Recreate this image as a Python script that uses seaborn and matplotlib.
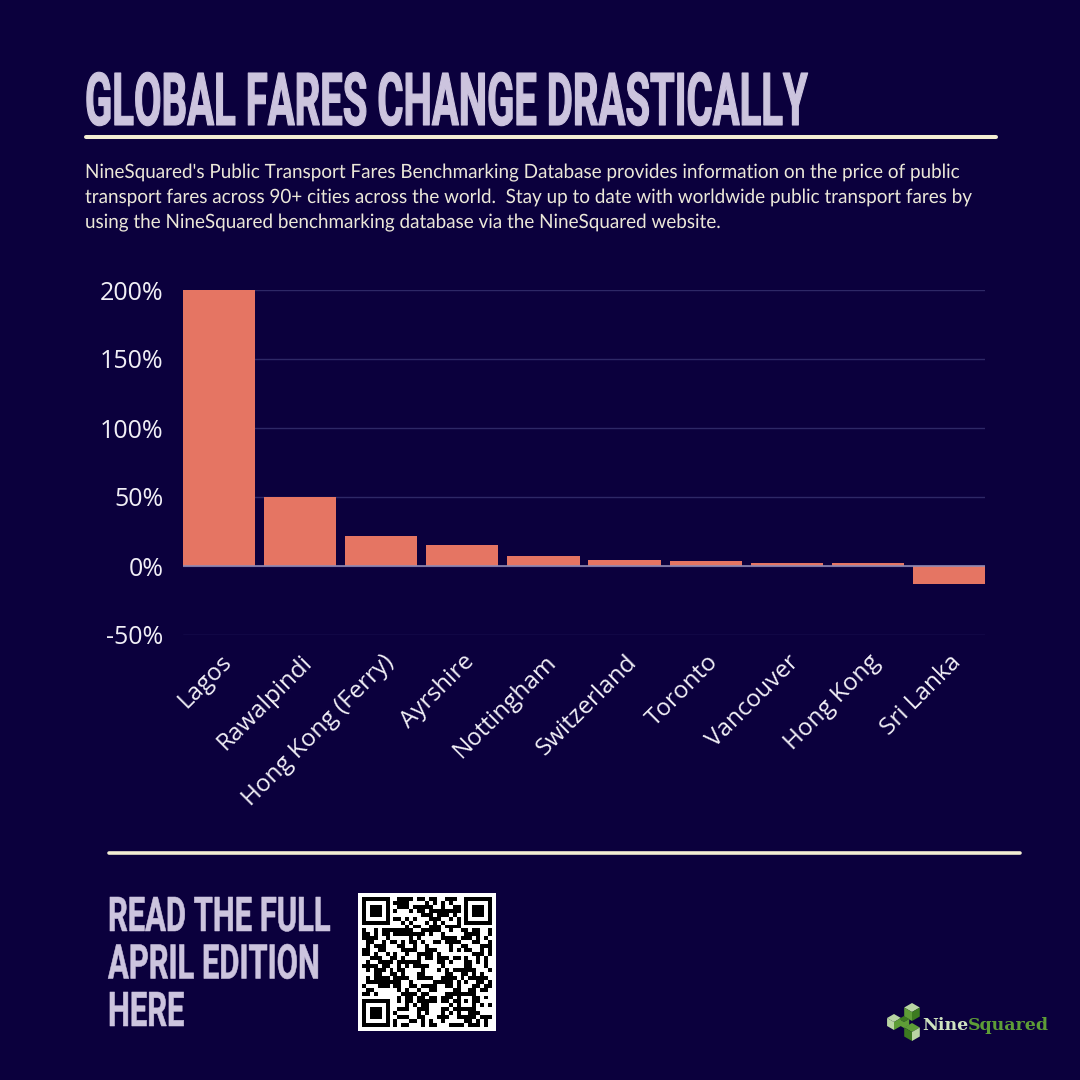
import hashlib
import numpy as np
import pandas as pd
import matplotlib
matplotlib.use("Agg")
import matplotlib.pyplot as plt
import seaborn as sns
from matplotlib.patheffects import AbstractPathEffect
from matplotlib.transforms import Affine2D, ScaledTranslation
from matplotlib.ticker import FuncFormatter

# Data (% change in fares)
cities = ["Lagos", "Rawalpindi", "Hong Kong (Ferry)", "Ayrshire", "Nottingham",
          "Switzerland", "Toronto", "Vancouver", "Hong Kong", "Sri Lanka"]
changes = [200, 50, 22, 15, 7.2, 4.3, 3.4, 2.4, 2.4, -13]
y_ticks = [-50, 0, 50, 100, 150, 200]

title = "GLOBAL FARES CHANGE DRASTICALLY"
intro_lines = [
    "NineSquared's Public Transport Fares Benchmarking Database provides information on the price of public",
    "transport fares across 90+ cities across the world.  Stay up to date with worldwide public transport fares by",
    "using the NineSquared benchmarking database via the NineSquared website.",
]
cta_lines = ["READ THE FULL", "APRIL EDITION", "HERE"]

# Colours
BG = "#0b003d"
BAR = "#e57563"
GRID = "#2e2866"
ZERO = "#9089b3"
TITLE = "#ccc4de"
CREAM = "#f4eed3"
TEXT = "#ece8d9"
TICK = "#f1eff6"
H = 1080


class Stretch(AbstractPathEffect):
    """Stretch a text vertically around its baseline y0 (display px), optional outline."""
    def __init__(self, sy, y0, lw=0.0):
        super().__init__((0, 0))
        self.sy, self.y0, self.lw = sy, y0, lw

    def draw_path(self, renderer, gc, tpath, affine, rgbFace=None):
        t = affine + Affine2D().translate(0, -self.y0).scale(1, self.sy).translate(0, self.y0)
        gc0 = renderer.new_gc()
        gc0.copy_properties(gc)
        if self.lw > 0 and rgbFace is not None:
            gc0.set_linewidth(self.lw)
            gc0.set_foreground(rgbFace)
        renderer.draw_path(gc0, tpath, t, rgbFace)
        gc0.restore()


sns.set_style("dark", {"axes.facecolor": BG, "figure.facecolor": BG})
plt.rcParams["font.family"] = ["Open Sans", "DejaVu Sans"]

fig = plt.figure(figsize=(10.8, 10.8), dpi=100, facecolor=BG)

# full-figure overlay in pixel coords for the poster decorations
deco = fig.add_axes([0, 0, 1, 1], zorder=-1)
deco.set_xlim(0, H)
deco.set_ylim(H, 0)
deco.axis("off")
deco.patch.set_alpha(0)

renderer = fig.canvas.get_renderer()


def fitted(x, y, s, target_w, cap_px, lw=0.0, size=None, **kw):
    """Text sized to a target width, then stretched to a target cap height."""
    size0 = cap_px / 0.711 * 0.72
    t = deco.text(x, y, s, ha="left", va="baseline", fontsize=size0, **kw)
    if size is None:
        w = t.get_window_extent(renderer).width
        size = size0 * target_w / w
    t.set_fontsize(size)
    t.set_path_effects([Stretch(size0 / size, H - y, lw)])
    return t, size


# Title + rules
fitted(85, 125, title, 723, 52, lw=0.8, fontweight="bold", family="Roboto", color=TITLE)
deco.plot([86, 996], [137, 137], color=CREAM, lw=2.9, solid_capstyle="round")
deco.plot([109, 1020], [852.5, 852.5], color=CREAM, lw=2.6, solid_capstyle="round")

# intro paragraph
_, psize = fitted(85, 178, intro_lines[0], 873, 14,
                  family=["Lato", "DejaVu Sans"], color=TEXT)
for i, line in enumerate(intro_lines[1:], start=1):
    fitted(85, 178 + 25 * i, line, 0, 14, size=psize,
           family=["Lato", "DejaVu Sans"], color=TEXT)

# Call to action
_, csize = fitted(108, 931, cta_lines[0], 222, 34, lw=0.4, fontweight="bold",
                  family="Roboto", color=TITLE)
for i, line in enumerate(cta_lines[1:], start=1):
    fitted(108, 931 + 47.5 * i, line, 0, 34, lw=0.4, size=csize, fontweight="bold",
           family="Roboto", color=TITLE)

# QR-style block (deterministic pattern from a hash)
n = 33
raw = b"".join(hashlib.sha256(f"ninesquared-april-{k}".encode()).digest() for k in range(5))
qr = np.unpackbits(np.frombuffer(raw, dtype=np.uint8))[: n * n].reshape(n, n).astype(float)
for r0, c0 in [(0, 0), (0, n - 7), (n - 7, 0)]:
    qr[max(r0 - 1, 0):r0 + 8, max(c0 - 1, 0):c0 + 8] = 0
    qr[r0:r0 + 7, c0:c0 + 7] = 1
    qr[r0 + 1:r0 + 6, c0 + 1:c0 + 6] = 0
    qr[r0 + 2:r0 + 5, c0 + 2:c0 + 5] = 1
qr[n - 9:n - 4, n - 9:n - 4] = 1
qr[n - 8:n - 5, n - 8:n - 5] = 0
qr[n - 7, n - 7] = 1
qr = np.pad(qr, 1)
qax = fig.add_axes([358 / H, 1 - 1031 / H, 138 / H, 138 / H])
qax.imshow(qr, cmap="gray_r", interpolation="nearest", vmin=0, vmax=1)
qax.axis("off")

# NineSquared logo
LIGHT, MID, DARK = "#b9d5a3", "#5e9d37", "#3c7a20"


def cube(cx, cy, r, top, left, right):
    h = 0.866 * r
    deco.fill([cx, cx + h, cx, cx - h], [cy - r, cy - r / 2, cy, cy - r / 2], color=top, lw=0)
    deco.fill([cx - h, cx, cx, cx - h], [cy - r / 2, cy, cy + r, cy + r / 2], color=left, lw=0)
    deco.fill([cx, cx + h, cx + h, cx], [cy, cy - r / 2, cy + r / 2, cy + r], color=right, lw=0)


cube(912, 1012, 9, LIGHT, MID, DARK)
cube(894, 1022, 8, LIGHT, LIGHT, MID)
cube(912, 1032, 9, MID, DARK, LIGHT)
cube(904, 1022, 6, DARK, MID, MID)
nine = deco.text(922, 1030, "Nine", ha="left", va="baseline", fontsize=12.5,
                 fontweight="bold", family="DejaVu Serif", color="#cfe3c0")
deco.annotate("Squared", xy=(1, 0), xycoords=nine, ha="left", va="bottom",
              fontsize=12.5, fontweight="bold", family="DejaVu Serif", color="#5e9d37")

# Bar chart
df = pd.DataFrame({"city": cities, "change": changes})
ax = fig.add_axes([183 / H, 1 - 635 / H, 802 / H, 345 / H])
sns.barplot(data=df, x="city", y="change", color=BAR, saturation=1, width=0.89,
            linewidth=0, ax=ax)
ax.set_facecolor(BG)
ax.set_xlim(-0.445, len(cities) - 0.555)
ax.set_ylim(-50, 200)
ax.set_yticks(y_ticks)
ax.yaxis.set_major_formatter(FuncFormatter(lambda v, _: f"{v:.0f}%"))
ax.set_axisbelow(True)
ax.yaxis.grid(True, color=GRID, lw=1)
ax.xaxis.grid(False)
ax.axhline(0, color=ZERO, lw=1.2, zorder=3)
for s in ax.spines.values():
    s.set_visible(False)
ax.set_xlabel("")
ax.set_ylabel("")
ax.tick_params(axis="y", length=0, pad=14, labelsize=18, labelcolor=TICK)
ax.tick_params(axis="x", length=0, pad=17, labelsize=17.5, labelcolor=TICK)
shift = ScaledTranslation(9 / 100, 0, fig.dpi_scale_trans)
for lab in ax.get_xticklabels():
    lab.set_rotation(45)
    lab.set_ha("right")
    lab.set_va("center")
    lab.set_rotation_mode("anchor")
    lab.set_transform(lab.get_transform() + shift)

fig.savefig("out.png", dpi=100, facecolor=BG)
